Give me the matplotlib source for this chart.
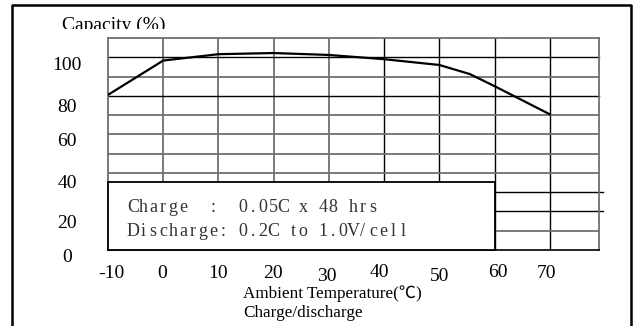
import matplotlib.pyplot as plt
from matplotlib.patches import Rectangle
from matplotlib.lines import Line2D
from matplotlib.transforms import blended_transform_factory, ScaledTranslation, Bbox, TransformedBbox

# capacity vs ambient temperature
temps = [-10, 0, 10, 20, 30, 40, 50, 55.5, 60, 70]
capacity = [80.5, 98.3, 101.6, 102.2, 101.2, 99.0, 96.0, 91.3, 85.0, 70.4]

x_ticks = [-10, 0, 10, 20, 30, 40, 50, 60, 70]
y_ticks = [100, 80, 60, 40, 20, 0]
grid_x = [0, 10, 20, 30, 40, 50, 60, 70]
grid_y = [10, 20, 30, 40, 50, 60, 70, 80, 90, 100]

box_lines = ["Charge  :  0.05C x 48 hrs",
             "Discharge: 0.2C to 1.0V/cell"]

# small pixel nudges, the scan is not perfectly aligned
x_lab_dx = [3.5, -1, 0, -1, -2, -5, 0, 3, -3]
x_lab_drop = [28, 28, 28, 28, 31, 27, 31, 27, 28]
y_lab_drop = [13, 16, 12, 15, 17, 12]
dark_x = [40, 50, 60, 70]
dark_y = [100, 80, 30, 20]

serif = ['Liberation Serif', 'Noto Sans CJK SC', 'DejaVu Sans']
W, H = 636, 326

fig = plt.figure(figsize=(W / 100, H / 100), dpi=100)
ax = fig.add_axes([108 / W, (H - 250) / H, 491 / W, 212 / H])
ax.set_xlim(-10, 78.9)
ax.set_ylim(0, 110)
ax.set_xticks([])
ax.set_yticks([])
for s in ['left', 'top', 'right']:
    ax.spines[s].set_color('#707070')
    ax.spines[s].set_linewidth(1.3)
ax.spines['bottom'].set_color('black')
ax.spines['bottom'].set_linewidth(1.2)

for gx in grid_x:
    if gx in dark_x:
        ax.axvline(gx, color='black', lw=1.0, zorder=1)
    else:
        ax.axvline(gx, color='#707070', lw=1.3, zorder=1)
for gy in grid_y:
    xmax = 1.008 if gy in (20, 30) else 1.0
    if gy in dark_y:
        ax.axhline(gy, xmax=xmax, color='black', lw=1.0, zorder=1, clip_on=False)
    else:
        ax.axhline(gy, xmax=xmax, color='#707070', lw=1.3, zorder=1, clip_on=False)

ax.plot(temps, capacity, color='black', lw=1.6, zorder=3)

# note box
ax.add_patch(Rectangle((-10, 0), 70, 35.5, facecolor='white', edgecolor='black',
                       lw=1.3, zorder=4, clip_on=False))
px = fig.dpi_scale_trans
# the scan uses a serif fixed-pitch font: set each character on a 10 px pitch
for line, yb in zip(box_lines, [0.179, 0.066]):
    for i, ch in enumerate(line):
        if ch == ' ':
            continue
        ax.text(0.0407, yb, ch, transform=ax.transAxes + ScaledTranslation((5 + i * 10) / 100, 0, px),
                fontsize=13, family='Liberation Serif', color='#333333',
                ha='center', va='baseline', zorder=5)

# tick labels
tx = blended_transform_factory(ax.transData, ax.transAxes)
for v, dx, dy in zip(x_ticks, x_lab_dx, x_lab_drop):
    ax.text(v, 0, str(v), transform=tx + ScaledTranslation(dx / 100, -dy / 100, px),
            ha='center', va='baseline', fontsize=14, family=serif, clip_on=False)
ty = blended_transform_factory(ax.transAxes, ax.transData)
for v, dy in zip(y_ticks, y_lab_drop):
    ax.text(0, v, str(v), transform=ty + ScaledTranslation(-41 / 100, -dy / 100, px),
            ha='center', va='baseline', fontsize=14, family=serif, clip_on=False)

# axis titles
cap = fig.text(62 / W, 1 - 30 / H, "Capacity (%)", fontsize=14, family=serif,
               va='baseline', ha='left', clip_on=True)
cap.set_clip_box(TransformedBbox(Bbox.from_extents(0, 1 - 29 / H, 1, 1), fig.transFigure))
fig.text(243 / W, 1 - 298 / H, "Ambient Temperature(℃)", fontsize=12.3, family=serif,
         va='baseline', ha='left')
fig.text(243 / W, 1 - 317 / H, "Charge/discharge", fontsize=12.3, family=serif,
         va='baseline', ha='left')

# outer frame (bottom edge is outside the picture)
frame_x = [12.2 / W, 12.2 / W, 630.8 / W, 630.8 / W]
frame_y = [0, 1 - 5.3 / H, 1 - 5.3 / H, 0]
fig.add_artist(Line2D(frame_x, frame_y, transform=fig.transFigure, color='black', lw=1.8))

fig.savefig('out.png', dpi=100)
